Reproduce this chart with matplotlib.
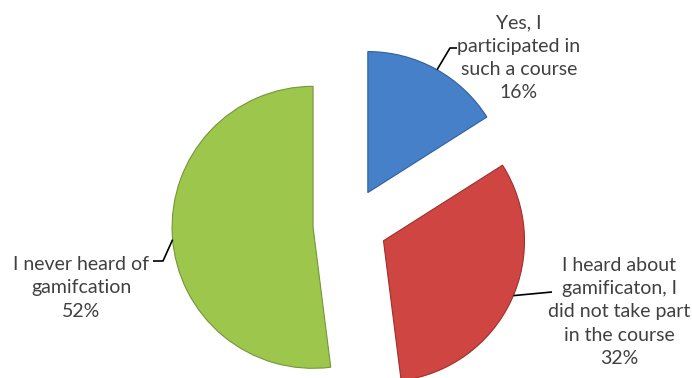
import matplotlib.pyplot as plt
import numpy as np

# datos del gráfico
labels = ['Yes, I\nparticipated in\nsuch a course\n16%',
          'I heard about\ngamificaton, I\ndid not take part\nin the course\n32%',
          'I never heard of\ngamifcation\n52%']
values = [16, 32, 52]
colors = ['#4580C8', '#CF4542', '#9CC64C']
edges = ['#2F5F9E', '#9E2F2D', '#76963A']

W, H = 692, 378
fig = plt.figure(figsize=(W / 100, H / 100), dpi=100)
ax = fig.add_axes([0, 0, 1, 1])

R = 141
wedges, _ = ax.pie(values, colors=colors, startangle=90, counterclock=False,
                   center=(350, 153), radius=R, explode=[37, 37, 37],
                   wedgeprops=dict(edgecolor='none'))
for w, ec in zip(wedges, edges):
    w.set_edgecolor(ec)
    w.set_linewidth(0.8)

# la función pie cambia los límites, se fijan después
ax.set_xlim(0, W)
ax.set_ylim(0, H)
ax.set_aspect('auto')
ax.axis('off')

# posiciones de etiquetas (texto) y líneas guía
txt_pos = [(519, 320), (619, 66), (81, 90)]
anchor_ang = [60.6, -22.9, 185.0]
kinks = [[(450, 330), (457, 330)],
         [(552, 86)],
         [(163, 117), (153, 117)]]

tcol = '#404040'
for w, lab, (tx, ty), ang, kk in zip(wedges, labels, txt_pos, anchor_ang, kinks):
    cx, cy = w.center
    a = np.deg2rad(ang)
    ax_, ay_ = cx + R * np.cos(a), cy + R * np.sin(a)
    xs = [ax_] + [p[0] for p in kk]
    ys = [ay_] + [p[1] for p in kk]
    ax.plot(xs, ys, color='black', lw=1.2, solid_capstyle='butt')
    ax.text(tx, ty, lab, ha='center', va='center', multialignment='center',
            fontsize=14, family='Lato', color=tcol, linespacing=1.45)

plt.savefig('out.png', dpi=100)
